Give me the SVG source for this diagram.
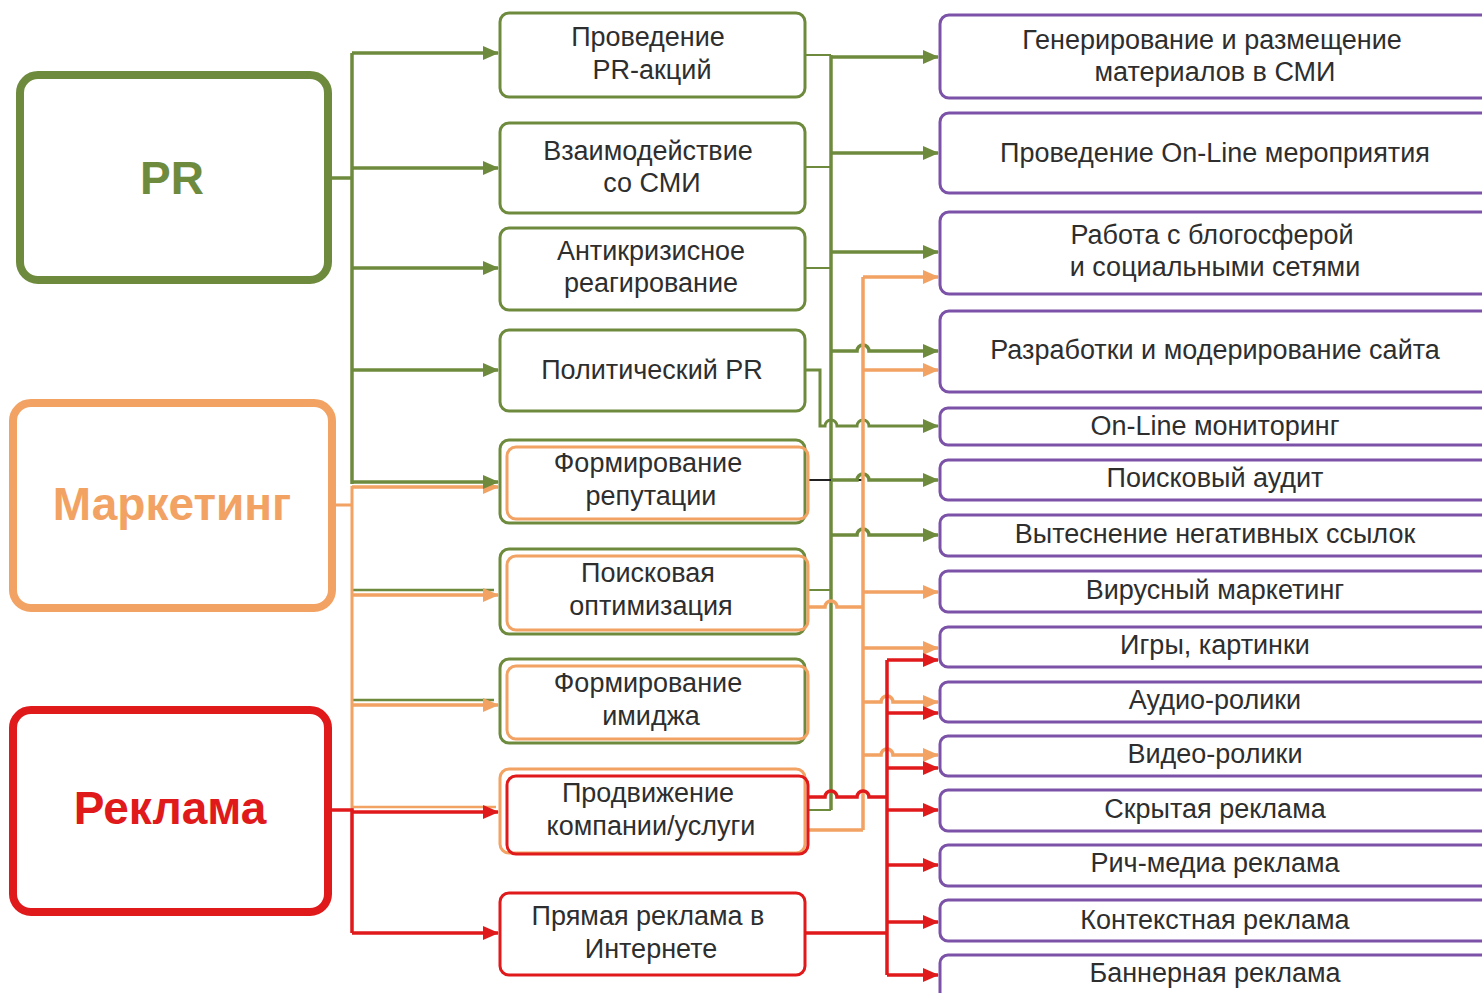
<svg xmlns="http://www.w3.org/2000/svg" width="1482" height="993" viewBox="0 0 1482 993">
<defs>
<style>
text{font-family:"Liberation Sans",Arial,sans-serif;fill:#2e2e2e;font-size:27px;text-anchor:middle}
.big{font-size:46px;font-weight:bold}
.g{stroke:#6e8b3d;fill:none}
.o{stroke:#f2a262;fill:none}
.r{stroke:#e0191b;fill:none}
.p{stroke:#7b52a8;fill:#fff;stroke-width:3}
.mb{fill:#fff;stroke-width:3}
.c{stroke-width:3.5;fill:none}
</style>
<marker id="ag" markerWidth="16" markerHeight="14" refX="15" refY="7" orient="auto" markerUnits="userSpaceOnUse"><path d="M0,0 L16,7 L0,14 z" fill="#6e8b3d"/></marker>
<marker id="ao" markerWidth="16" markerHeight="14" refX="15" refY="7" orient="auto" markerUnits="userSpaceOnUse"><path d="M0,0 L16,7 L0,14 z" fill="#f2a262"/></marker>
<marker id="ar" markerWidth="16" markerHeight="14" refX="15" refY="7" orient="auto" markerUnits="userSpaceOnUse"><path d="M0,0 L16,7 L0,14 z" fill="#e0191b"/></marker>
</defs>
<rect width="1482" height="993" fill="#fff"/>

<g id="connectors">
<!-- left green -->
<path class="g c" d="M328 178 H352 M352 53 V484"/>
<path class="g c" d="M352 53 H498" marker-end="url(#ag)"/>
<path class="g c" d="M352 168 H498" marker-end="url(#ag)"/>
<path class="g c" d="M352 268 H498" marker-end="url(#ag)"/>
<path class="g c" d="M352 370 H498" marker-end="url(#ag)"/>
<path class="g" stroke-width="2.5" d="M352 590 H494 M352 700 H494"/>
<!-- left orange -->
<path class="o" stroke-width="3" d="M332 505 H352 M352 486 V812"/>
<path class="o c" d="M352 487 H498" marker-end="url(#ao)"/>
<path class="g c" d="M352 482 H498" marker-end="url(#ag)"/>
<path class="o c" d="M352 595 H498" marker-end="url(#ao)"/>
<path class="o c" d="M352 705 H498" marker-end="url(#ao)"/>
<path class="o" stroke-width="2.5" d="M352 807 H496"/>
<!-- left red -->
<path class="r c" d="M328 810 H352 V933"/>
<path class="r c" d="M352 812 H498" marker-end="url(#ar)"/>
<path class="r c" d="M352 933 H498" marker-end="url(#ar)"/>

<!-- right green -->
<path class="g" stroke-width="2" d="M805 55 H831 M805 167 H831 M805 268 H831 M808 590 H831 M808 810 H831"/>
<path class="g c" d="M831 55 V810"/>
<path class="g c" d="M831 57 H938" marker-end="url(#ag)"/>
<path class="g c" d="M831 153 H938" marker-end="url(#ag)"/>
<path class="g c" d="M831 252 H938" marker-end="url(#ag)"/>
<path class="g c" d="M831 351 H857 A6 6 0 0 1 869 351 H938" marker-end="url(#ag)"/>
<path class="g" stroke-width="3" d="M805 370 H820 V426 H825 A6 6 0 0 1 837 426 H857 A6 6 0 0 1 869 426 H938" marker-end="url(#ag)"/>
<path stroke="#222" stroke-width="2" fill="none" d="M808 480 H862"/>
<path class="g c" d="M831 480 H857 A6 6 0 0 1 869 480 H938" marker-end="url(#ag)"/>
<path class="g c" d="M831 535 H857 A6 6 0 0 1 869 535 H938" marker-end="url(#ag)"/>

<!-- right orange -->
<path class="o c" d="M863 277 V830"/>
<path class="o c" d="M863 277 H938" marker-end="url(#ao)"/>
<path class="o c" d="M863 370 H938" marker-end="url(#ao)"/>
<path class="o c" d="M863 592 H938" marker-end="url(#ao)"/>
<path class="o c" d="M863 648 H938" marker-end="url(#ao)"/>
<path class="o c" d="M863 702 H881 A6 6 0 0 1 893 702 H938" marker-end="url(#ao)"/>
<path class="o c" d="M863 755 H881 A6 6 0 0 1 893 755 H938" marker-end="url(#ao)"/>
<path class="o c" d="M808 607 H825 A6 6 0 0 1 837 607 H863"/>
<path class="o c" d="M808 830 H863"/>

<!-- right red -->
<path class="r c" d="M887 660 V975"/>
<path class="r c" d="M887 660 H938" marker-end="url(#ar)"/>
<path class="r c" d="M887 713 H938" marker-end="url(#ar)"/>
<path class="r c" d="M887 768 H938" marker-end="url(#ar)"/>
<path class="r c" d="M887 810 H938" marker-end="url(#ar)"/>
<path class="r c" d="M887 865 H938" marker-end="url(#ar)"/>
<path class="r c" d="M887 922 H938" marker-end="url(#ar)"/>
<path class="r c" d="M887 975 H938" marker-end="url(#ar)"/>
<path class="r c" d="M808 797 H825 A6 6 0 0 1 837 797 H857 A6 6 0 0 1 869 797 H887"/>
<path class="r c" d="M805 933 H887"/>
</g>

<g id="n-pr"><rect x="20" y="75" width="308" height="205" rx="18" fill="#fff" stroke="#6e8b3d" stroke-width="8"/><text class="big" x="172" y="194" style="fill:#6e8b3d">PR</text></g>
<g id="n-marketing"><rect x="13" y="403" width="319" height="205" rx="18" fill="#fff" stroke="#f2a262" stroke-width="8"/><text class="big" x="172" y="520" style="fill:#f2a262">Маркетинг</text></g>
<g id="n-reklama"><rect x="13" y="710" width="315" height="202" rx="18" fill="#fff" stroke="#e0191b" stroke-width="8"/><text class="big" x="170" y="824" style="fill:#e0191b">Реклама</text></g>

<g id="m1"><rect class="mb g" x="500" y="13" width="305" height="84" rx="9"/><text x="648" y="46">Проведение</text><text x="652" y="79">PR-акций</text></g>
<g id="m2"><rect class="mb g" x="500" y="123" width="305" height="90" rx="9"/><text x="648" y="160">Взаимодействие</text><text x="652" y="192">со СМИ</text></g>
<g id="m3"><rect class="mb g" x="500" y="228" width="305" height="82" rx="9"/><text x="651" y="260">Антикризисное</text><text x="651" y="292">реагирование</text></g>
<g id="m4"><rect class="mb g" x="500" y="330" width="305" height="81" rx="9"/><text x="652" y="379">Политический PR</text></g>
<g id="m5"><rect class="mb g" x="500" y="440" width="305" height="83" rx="9"/><rect class="o" stroke-width="3" x="507" y="447" width="301" height="72" rx="9"/><text x="648" y="472">Формирование</text><text x="651" y="505">репутации</text></g>
<g id="m6"><rect class="mb g" x="500" y="549" width="305" height="85" rx="9"/><rect class="o" stroke-width="3" x="507" y="556" width="301" height="74" rx="9"/><text x="648" y="582">Поисковая</text><text x="651" y="615">оптимизация</text></g>
<g id="m7"><rect class="mb g" x="500" y="659" width="305" height="84" rx="9"/><rect class="o" stroke-width="3" x="507" y="666" width="301" height="73" rx="9"/><text x="648" y="692">Формирование</text><text x="651" y="725">имиджа</text></g>
<g id="m8"><rect class="mb o" x="500" y="769" width="305" height="84" rx="9"/><rect class="r" stroke-width="3" x="507" y="776" width="301" height="78" rx="9"/><text x="648" y="802">Продвижение</text><text x="651" y="835">компании/услуги</text></g>
<g id="m9"><rect class="mb r" x="500" y="893" width="305" height="82" rx="9"/><text x="648" y="925">Прямая реклама в</text><text x="651" y="958">Интернете</text></g>

<g id="r1"><rect class="p" x="940" y="15" width="570" height="83" rx="9"/><text x="1212" y="49">Генерирование и размещение</text><text x="1215" y="81">материалов в СМИ</text></g>
<g id="r2"><rect class="p" x="940" y="113" width="570" height="80" rx="9"/><text x="1215" y="162">Проведение On-Line мероприятия</text></g>
<g id="r3"><rect class="p" x="940" y="212" width="570" height="82" rx="9"/><text x="1212" y="244">Работа с блогосферой</text><text x="1215" y="276">и социальными сетями</text></g>
<g id="r4"><rect class="p" x="940" y="311" width="570" height="81" rx="9"/><text x="1215" y="359">Разработки и модерирование сайта</text></g>
<g id="r5"><rect class="p" x="940" y="408" width="570" height="37" rx="8"/><text x="1215" y="435">On-Line мониторинг</text></g>
<g id="r6"><rect class="p" x="940" y="460" width="570" height="40" rx="8"/><text x="1215" y="487">Поисковый аудит</text></g>
<g id="r7"><rect class="p" x="940" y="515" width="570" height="41" rx="8"/><text x="1215" y="543">Вытеснение негативных ссылок</text></g>
<g id="r8"><rect class="p" x="940" y="571" width="570" height="41" rx="8"/><text x="1215" y="599">Вирусный маркетинг</text></g>
<g id="r9"><rect class="p" x="940" y="627" width="570" height="40" rx="8"/><text x="1215" y="654">Игры, картинки</text></g>
<g id="r10"><rect class="p" x="940" y="682" width="570" height="40" rx="8"/><text x="1215" y="709">Аудио-ролики</text></g>
<g id="r11"><rect class="p" x="940" y="736" width="570" height="40" rx="8"/><text x="1215" y="763">Видео-ролики</text></g>
<g id="r12"><rect class="p" x="940" y="790" width="570" height="41" rx="8"/><text x="1215" y="818">Скрытая реклама</text></g>
<g id="r13"><rect class="p" x="940" y="845" width="570" height="41" rx="8"/><text x="1215" y="872">Рич-медиа реклама</text></g>
<g id="r14"><rect class="p" x="940" y="900" width="570" height="41" rx="8"/><text x="1215" y="929">Контекстная реклама</text></g>
<g id="r15"><rect class="p" x="940" y="955" width="570" height="45" rx="8"/><text x="1215" y="982">Баннерная реклама</text></g>
</svg>
